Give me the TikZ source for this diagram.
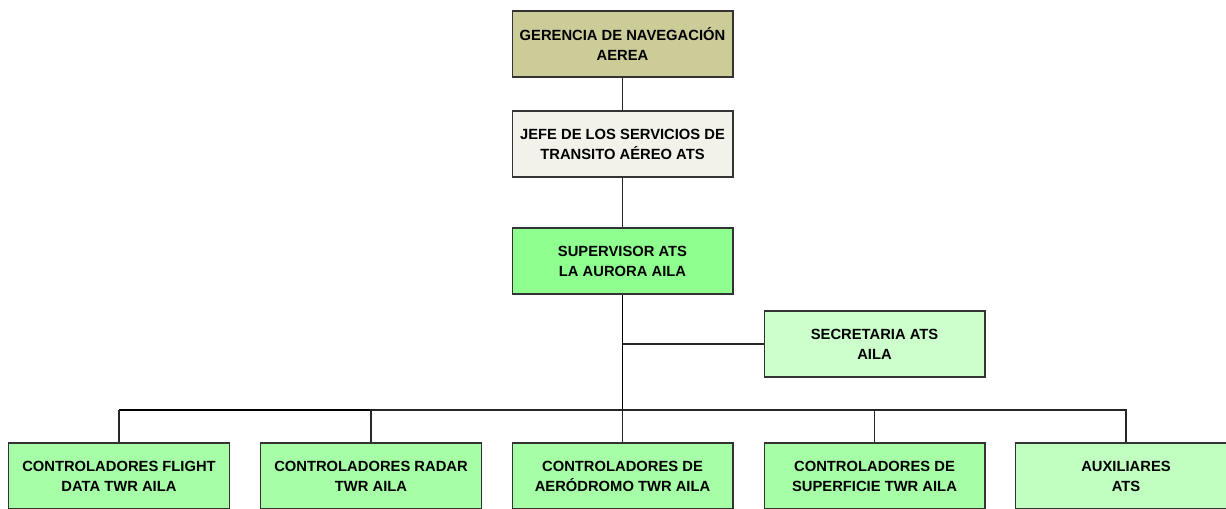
\documentclass[tikz,border=0pt]{standalone}
\usepackage{fontspec}
\setmainfont{Liberation Sans}
\usepackage{tikz}
\usetikzlibrary{positioning, calc}
\definecolor{gerenciaolive}{HTML}{CCCC99}
\definecolor{jefegray}{HTML}{F2F2EA}
\definecolor{supgreen}{HTML}{8FFF8F}
\definecolor{secgreen}{HTML}{CCFFCC}
\definecolor{ctrlgreen}{HTML}{A6FFA6}
\definecolor{auxgreen}{HTML}{C0FFC0}
\definecolor{boxedge}{HTML}{333333}
\tikzset{
  % Organisation boxes
  orgbox/.style={
    rectangle, minimum width=4.42cm, minimum height=1.32cm,
    draw=boxedge, fill=#1, text=black, line width=0.6pt,
    font=\fontsize{8.4}{11.4}\selectfont\bfseries, align=center,
  },
  orgbox/.default={ctrlgreen},
  % Connectors
  orgline/.style={draw=black!85, line width=0.6pt},
  trunkline/.style={draw=black, line width=1.1pt},
}

\begin{document}
\begin{tikzpicture}[x=0.02cm, y=-0.02cm]
  \clip (0,0) rectangle (1226,508);
  \fill[white] (0,0) rectangle (1226,508);

  % Upper chain
  \node[orgbox=gerenciaolive] (ger) at (622.5,44) {GERENCIA DE NAVEGACIÓN\\AEREA};
  \node[orgbox=jefegray] (jefe) at (622.5,144) {JEFE DE LOS SERVICIOS DE\\TRANSITO AÉREO ATS};
  \node[orgbox=supgreen] (sup) at (622.5,261) {SUPERVISOR ATS\\LA AURORA AILA};
  \node[orgbox=secgreen] (sec) at (874.5,344) {SECRETARIA ATS\\AILA};

  % Controllers row
  \node[orgbox] (flight) at (119,476) {CONTROLADORES FLIGHT\\DATA TWR AILA};
  \node[orgbox] (radar) at (371,476) {CONTROLADORES RADAR\\TWR AILA};
  \node[orgbox] (aero) at (622.5,476) {CONTROLADORES DE\\AERÓDROMO TWR AILA};
  \node[orgbox] (superf) at (874.5,476) {CONTROLADORES DE\\SUPERFICIE TWR AILA};
  \node[orgbox=auxgreen] (aux) at (1126,476) {AUXILIARES\\ATS};

  \coordinate (bus) at (622.5,410);

  % Connectors
  \draw[orgline] (ger) -- (jefe);
  \draw[orgline] (jefe) -- (sup);
  \draw[trunkline] (sup) -- (bus);
  \draw[orgline] (sup.south |- sec.west) -- (sec.west);
  \draw[trunkline] (bus) -- (bus -| flight.north);
  \draw[orgline] (bus -| flight.north) -- (flight.north);
  \draw[orgline] (bus) -| (radar.north);
  \draw[orgline] (bus) -- (aero.north);
  \draw[orgline] (bus) -| (superf.north);
  \draw[orgline] (bus) -| (aux.north);
\end{tikzpicture}
\end{document}
